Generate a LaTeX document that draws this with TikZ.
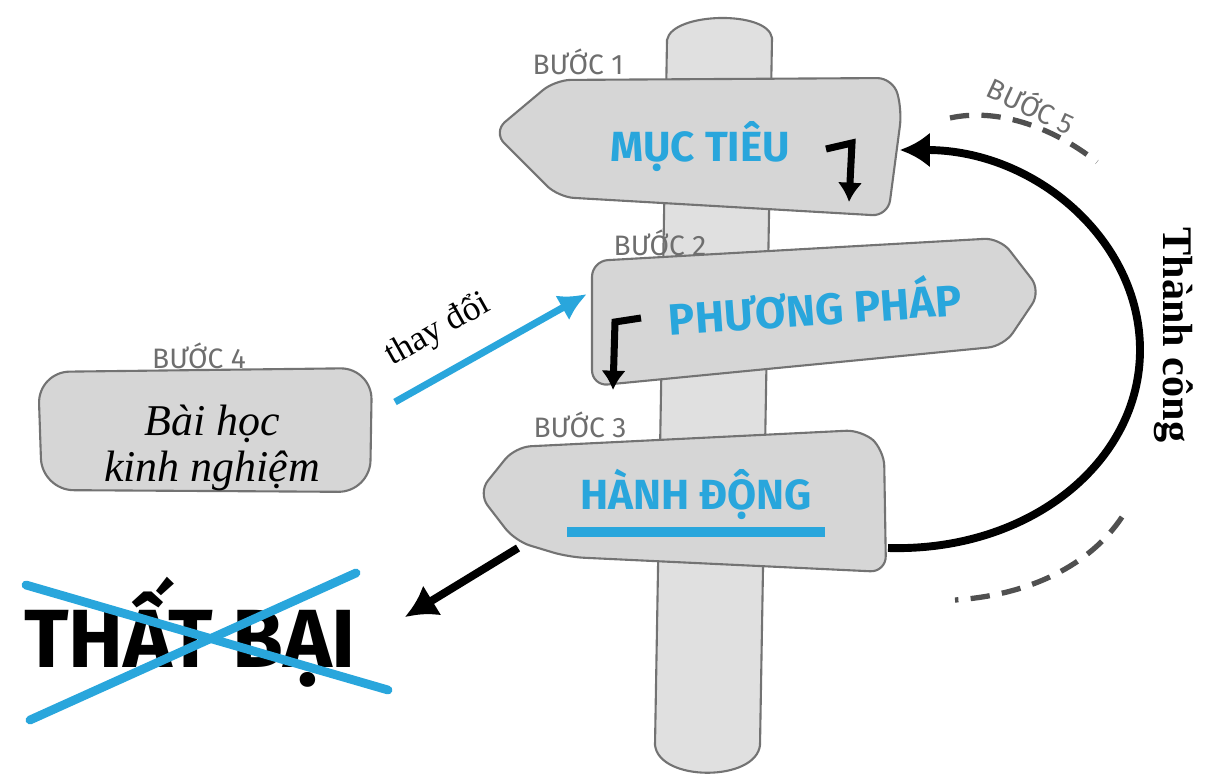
\documentclass[tikz,border=0pt]{standalone}
\usepackage{fontspec}
\setmainfont{Liberation Serif}
\newfontfamily\signfont{Fira Sans}
\usetikzlibrary{arrows.meta}

\definecolor{signblue}{RGB}{41,166,220}
\definecolor{boardgray}{RGB}{214,214,214}
\definecolor{postgray}{RGB}{224,224,224}
\definecolor{edgegray}{RGB}{115,115,115}
\definecolor{stepgray}{RGB}{110,110,110}
\definecolor{trackgray}{RGB}{80,80,80}

\tikzset{
	board/.style={fill=boardgray, draw=edgegray, line width=1.2pt, rounded corners=9pt},
	post/.style={fill=postgray, draw=edgegray, line width=1.2pt},
	title/.style={font=\signfont\bfseries\fontsize{24}{28}\selectfont, text=signblue},
	steplabel/.style={font=\signfont\fontsize{16}{19}\selectfont, text=stepgray},
	turn/.style={line width=4pt, -{Latex[length=11pt, width=14pt]}},
	track/.style={trackgray, line width=3pt, dash pattern=on 11pt off 7pt},
}

\begin{document}
\begin{tikzpicture}[x=0.02cm, y=-0.02cm]
		\useasboundingbox (0,0) rectangle (1209,776);
		
		%Post
		\filldraw[post] (655,745) -- (667,40) .. controls (672,12) and (768,10) .. (772,38) -- (760,745) .. controls (756,782) and (659,782) .. cycle;
		
		%Boards
		\filldraw[board] (493,132) -- (555,80) -- (893,78) -- (902,110) -- (888,216) -- (558,197) -- cycle;
		\filldraw[board] (592,261) -- (1000,238) -- (1041,291) -- (1004,346) -- (592,386) -- cycle;
		\filldraw[board] (478,493) -- (515,447) -- (862,430) -- (884,450) -- (886,572) -- (568,557) -- (515,541) -- cycle;
		\filldraw[board, rounded corners=18pt] (38,372) -- (372,368) -- (370,492) -- (42,490) -- cycle;
		
		%Step labels
		\node[steplabel] (b1) at (578,62) {BƯỚC 1};
		\node[steplabel] (b2) at (660,243) {BƯỚC 2};
		\node[steplabel] (b3) at (580,425) {BƯỚC 3};
		\node[steplabel] (b4) at (199,356) {BƯỚC 4};
		\node[steplabel, rotate=-25] (b5) at (1032,104) {BƯỚC 5};
		
		%Board texts
		\node[title] (goal) at (700,147) {MỤC TIÊU};
		\node[title, font=\signfont\bfseries\fontsize{25}{29}\selectfont, rotate=4] (method) at (815,305) {PHƯƠNG PHÁP};
		\node[title] (act) at (696,494) {HÀNH ĐỘNG};
		\fill[signblue] (567,527) rectangle (825,537);
		\node[font=\itshape\fontsize{25}{26}\selectfont, align=center] (lesson) at (212,448) {Bài học\\kinh nghiệm};
		
		%Failure
		\node[font=\signfont\bfseries\fontsize{47}{52}\selectfont] (fail) at (190,632) {THẤT BẠI};
		\draw[signblue, line width=5pt, line cap=round] (26,585) -- (388,690);
		\draw[signblue, line width=5pt, line cap=round] (30,720) -- (356,573);
		
		%Turn arrows
		\draw[turn] (826,149) -- (852,143) -- (849,202);
		\draw[turn] (641,318) -- (615,322) -- (613,390);
		
		%Connectors
		\coordinate (chgS) at (395,402);
		\coordinate (chgE) at (587,294);
		\draw[signblue, line width=4pt, -{Latex[length=16pt, width=16pt]}] (chgS) -- (chgE) node [pos=0.33, above=9pt, sloped, black, font=\fontsize{20}{22}\selectfont] {thay đổi};
		
		\coordinate (failS) at (518,548);
		\coordinate (failE) at (405,617);
		\draw[line width=4.5pt, -{Latex[length=18pt, width=20pt]}] (failS) -- (failE);
		
		\coordinate (okS) at (888,548);
		\coordinate (okE) at (900,150);
		\draw[line width=4.5pt, -{Latex[length=17pt, width=20pt]}] (okS) .. controls (1030,552) and (1140,462) .. (1140,350) .. controls (1140,240) and (1035,150) .. (okE);
		\node[rotate=-90, font=\bfseries\fontsize{24}{28}\selectfont] (ok) at (1174,335) {Thành công};
		
		%Dashed tracks
		\draw[track] (950,118) .. controls (995,108) and (1050,125) .. (1097,162);
		\draw[track] (1122,517) .. controls (1090,565) and (1030,595) .. (955,600);
	\end{tikzpicture}
\end{document}
